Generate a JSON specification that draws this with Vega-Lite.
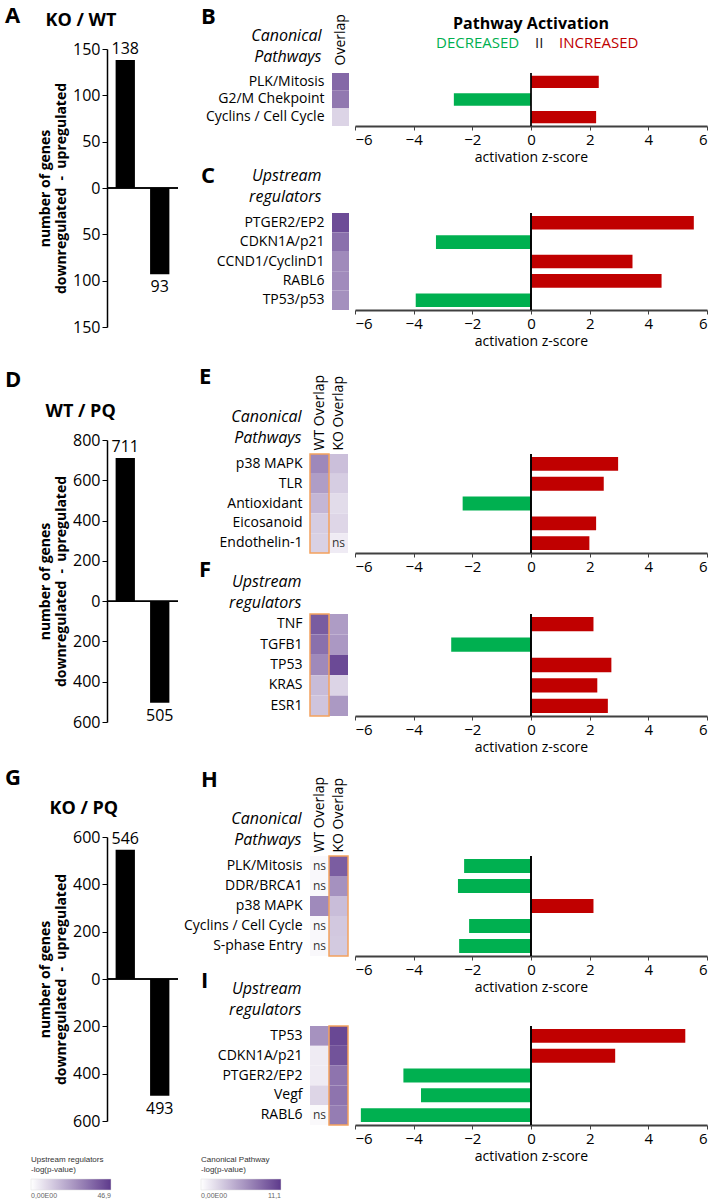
{
"$schema": "https://vega.github.io/schema/vega-lite/v6.json",
"background": "white",
"padding": 5,
"config": {
 "font": "Open Sans",
 "view": {"stroke": null},
 "axis": {"labelColor": "#000", "titleColor": "#000", "labelFont": "Open Sans", "titleFont": "Open Sans", "grid": false},
 "title": {"font": "Open Sans", "color": "#000"},
 "legend": {"labelFont": "Open Sans", "titleFont": "Open Sans"}
},
"datasets": {
 "genesA": [{"dir": "up", "n": 138, "genes": 138}, {"dir": "down", "n": -93, "genes": 93}],
 "genesD": [{"dir": "up", "n": 711, "genes": 711}, {"dir": "down", "n": -505, "genes": 505}],
 "genesG": [{"dir": "up", "n": 546, "genes": 546}, {"dir": "down", "n": -493, "genes": 493}],
 "heatB": [
  {"name": "PLK/Mitosis", "col": "Overlap", "val": 8.5, "sig": ""},
  {"name": "G2/M Chekpoint", "col": "Overlap", "val": 7.6, "sig": ""},
  {"name": "Cyclins / Cell Cycle", "col": "Overlap", "val": 2.4, "sig": ""}],
 "heatC": [
  {"name": "PTGER2/EP2", "col": "Overlap", "val": 42.6, "sig": ""},
  {"name": "CDKN1A/p21", "col": "Overlap", "val": 34, "sig": ""},
  {"name": "CCND1/CyclinD1", "col": "Overlap", "val": 27.8, "sig": ""},
  {"name": "RABL6", "col": "Overlap", "val": 27.5, "sig": ""},
  {"name": "TP53/p53", "col": "Overlap", "val": 26.4, "sig": ""}],
 "heatE": [
  {"name": "p38 MAPK", "col": "WT Overlap", "val": 6.7, "sig": ""},
  {"name": "p38 MAPK", "col": "KO Overlap", "val": 3.6, "sig": ""},
  {"name": "TLR", "col": "WT Overlap", "val": 5.5, "sig": ""},
  {"name": "TLR", "col": "KO Overlap", "val": 2.8, "sig": ""},
  {"name": "Antioxidant", "col": "WT Overlap", "val": 4.1, "sig": ""},
  {"name": "Antioxidant", "col": "KO Overlap", "val": 2.0, "sig": ""},
  {"name": "Eicosanoid", "col": "WT Overlap", "val": 2.8, "sig": ""},
  {"name": "Eicosanoid", "col": "KO Overlap", "val": 2.3, "sig": ""},
  {"name": "Endothelin-1", "col": "WT Overlap", "val": 2.6, "sig": ""},
  {"name": "Endothelin-1", "col": "KO Overlap", "val": 1.1, "sig": "ns"}],
 "heatF": [
  {"name": "TNF", "col": "WT Overlap", "val": 38.9, "sig": ""},
  {"name": "TNF", "col": "KO Overlap", "val": 23.5, "sig": ""},
  {"name": "TGFB1", "col": "WT Overlap", "val": 34, "sig": ""},
  {"name": "TGFB1", "col": "KO Overlap", "val": 24.5, "sig": ""},
  {"name": "TP53", "col": "WT Overlap", "val": 28, "sig": ""},
  {"name": "TP53", "col": "KO Overlap", "val": 43, "sig": ""},
  {"name": "KRAS", "col": "WT Overlap", "val": 16, "sig": ""},
  {"name": "KRAS", "col": "KO Overlap", "val": 10.3, "sig": ""},
  {"name": "ESR1", "col": "WT Overlap", "val": 14, "sig": ""},
  {"name": "ESR1", "col": "KO Overlap", "val": 24.4, "sig": ""}],
 "heatH": [
  {"name": "PLK/Mitosis", "col": "WT Overlap", "val": 0.4, "sig": "ns"},
  {"name": "PLK/Mitosis", "col": "KO Overlap", "val": 9.1, "sig": ""},
  {"name": "DDR/BRCA1", "col": "WT Overlap", "val": 0.4, "sig": "ns"},
  {"name": "DDR/BRCA1", "col": "KO Overlap", "val": 6.2, "sig": ""},
  {"name": "p38 MAPK", "col": "WT Overlap", "val": 6.6, "sig": ""},
  {"name": "p38 MAPK", "col": "KO Overlap", "val": 3.7, "sig": ""},
  {"name": "Cyclins / Cell Cycle", "col": "WT Overlap", "val": 0.4, "sig": "ns"},
  {"name": "Cyclins / Cell Cycle", "col": "KO Overlap", "val": 3.1, "sig": ""},
  {"name": "S-phase Entry", "col": "WT Overlap", "val": 0.4, "sig": "ns"},
  {"name": "S-phase Entry", "col": "KO Overlap", "val": 3.0, "sig": ""}],
 "heatI": [
  {"name": "TP53", "col": "WT Overlap", "val": 26, "sig": ""},
  {"name": "TP53", "col": "KO Overlap", "val": 43.6, "sig": ""},
  {"name": "CDKN1A/p21", "col": "WT Overlap", "val": 4.7, "sig": ""},
  {"name": "CDKN1A/p21", "col": "KO Overlap", "val": 41, "sig": ""},
  {"name": "PTGER2/EP2", "col": "WT Overlap", "val": 4.7, "sig": ""},
  {"name": "PTGER2/EP2", "col": "KO Overlap", "val": 33, "sig": ""},
  {"name": "Vegf", "col": "WT Overlap", "val": 10, "sig": ""},
  {"name": "Vegf", "col": "KO Overlap", "val": 33, "sig": ""},
  {"name": "RABL6", "col": "WT Overlap", "val": 1.5, "sig": "ns"},
  {"name": "RABL6", "col": "KO Overlap", "val": 31, "sig": ""}],
 "barB": [
  {"name": "PLK/Mitosis", "z": 2.31, "dir": "INCREASED"},
  {"name": "G2/M Chekpoint", "z": -2.63, "dir": "DECREASED"},
  {"name": "Cyclins / Cell Cycle", "z": 2.22, "dir": "INCREASED"}],
 "barC": [
  {"name": "PTGER2/EP2", "z": 5.55, "dir": "INCREASED"},
  {"name": "CDKN1A/p21", "z": -3.24, "dir": "DECREASED"},
  {"name": "CCND1/CyclinD1", "z": 3.46, "dir": "INCREASED"},
  {"name": "RABL6", "z": 4.45, "dir": "INCREASED"},
  {"name": "TP53/p53", "z": -3.93, "dir": "DECREASED"}],
 "barE": [
  {"name": "p38 MAPK", "z": 2.97, "dir": "INCREASED"},
  {"name": "TLR", "z": 2.48, "dir": "INCREASED"},
  {"name": "Antioxidant", "z": -2.33, "dir": "DECREASED"},
  {"name": "Eicosanoid", "z": 2.22, "dir": "INCREASED"},
  {"name": "Endothelin-1", "z": 1.99, "dir": "INCREASED"}],
 "barF": [
  {"name": "TNF", "z": 2.13, "dir": "INCREASED"},
  {"name": "TGFB1", "z": -2.72, "dir": "DECREASED"},
  {"name": "TP53", "z": 2.74, "dir": "INCREASED"},
  {"name": "KRAS", "z": 2.26, "dir": "INCREASED"},
  {"name": "ESR1", "z": 2.62, "dir": "INCREASED"}],
 "barH": [
  {"name": "PLK/Mitosis", "z": -2.28, "dir": "DECREASED"},
  {"name": "DDR/BRCA1", "z": -2.49, "dir": "DECREASED"},
  {"name": "p38 MAPK", "z": 2.13, "dir": "INCREASED"},
  {"name": "Cyclins / Cell Cycle", "z": -2.11, "dir": "DECREASED"},
  {"name": "S-phase Entry", "z": -2.45, "dir": "DECREASED"}],
 "barI": [
  {"name": "TP53", "z": 5.26, "dir": "INCREASED"},
  {"name": "CDKN1A/p21", "z": 2.87, "dir": "INCREASED"},
  {"name": "PTGER2/EP2", "z": -4.35, "dir": "DECREASED"},
  {"name": "Vegf", "z": -3.75, "dir": "DECREASED"},
  {"name": "RABL6", "z": -5.8, "dir": "DECREASED"}],
 "boxWT": [{"col": "WT Overlap"}],
 "boxKO": [{"col": "KO Overlap"}]
},
"bounds": "full",
"spacing": 18,
"resolve": {"scale": {"fill": "independent", "color": "independent"}},
"vconcat": [
 {
  "hconcat": [
   {
    "width": 71, "height": 278,
    "title": {"text": "A", "anchor": "start", "frame": "group", "dx": -102, "offset": -17, "fontSize": 22, "fontWeight": "bold"},
    "data": {"name": "genesA"},
    "layer": [
     {"mark": {"type": "bar", "color": "black"},
      "encoding": {
       "x": {"field": "dir", "type": "nominal", "sort": ["up", "down"], "scale": {"paddingInner": 0.44, "paddingOuter": 0.25},
             "axis": {"orient": "top", "labels": false, "ticks": false, "domain": false, "title": "KO / WT", "titleFontSize": 18, "titleFontWeight": "bold", "titleX": -62, "titleY": -20, "titleAlign": "left", "titleBaseline": "bottom", "titleAngle": 0}},
       "y": {"field": "n", "type": "quantitative", "scale": {"domain": [-150, 150], "nice": false},
             "axis": {"values": [-150, -100, -50, 0, 50, 100, 150], "labelExpr": "abs(datum.value)", "title": ["number of genes", "downregulated\u00a0 - \u00a0upregulated"], "titleFontSize": 14, "titleFontWeight": "bold", "labelFontSize": 16, "domainColor": "black", "domainWidth": 1.5, "tickColor": "black", "tickSize": 5, "labelPadding": 2, "titlePadding": 4}}
      }},
     {"mark": {"type": "rule", "color": "black", "strokeWidth": 1.5}, "encoding": {"y": {"datum": 0}}},
     {"transform": [{"filter": "datum.n > 0"}],
      "mark": {"type": "text", "baseline": "bottom", "dy": -3, "fontSize": 16},
      "encoding": {"x": {"field": "dir", "type": "nominal", "sort": ["up", "down"]}, "y": {"field": "n", "type": "quantitative"}, "text": {"field": "genes"}}},
     {"transform": [{"filter": "datum.n < 0"}],
      "mark": {"type": "text", "baseline": "top", "dy": 5, "fontSize": 16},
      "encoding": {"x": {"field": "dir", "type": "nominal", "sort": ["up", "down"]}, "y": {"field": "n", "type": "quantitative"}, "text": {"field": "genes"}}}
    ]
   },
   {
    "vconcat": [
     {
      "hconcat": [
       {
        "width": 17, "height": 77,
        "title": {"text": "B", "anchor": "start", "frame": "group", "dx": -131, "offset": -15, "fontSize": 22, "fontWeight": "bold"},
        "data": {"name": "heatB"},
        "layer": [
         {"mark": {"type": "rect"},
          "encoding": {
           "x": {"field": "col", "type": "nominal", "scale": {"domain": ["Overlap"], "paddingInner": 0, "paddingOuter": 0},
                 "axis": {"orient": "top", "offset": -24, "labelAngle": -90, "labelFontSize": 14, "labelPadding": 8, "ticks": false, "domain": false, "title": null}},
           "y": {"field": "name", "type": "nominal", "scale": {"domain": ["PLK/Mitosis", "G2/M Chekpoint", "Cyclins / Cell Cycle"], "paddingInner": 0, "paddingOuter": 0.679, "align": 1},
                 "axis": {"labelFontSize": 14, "labelPadding": 8, "ticks": false, "domain": false, "title": ["Canonical", "Pathways"], "titleFontStyle": "italic", "titleFontWeight": "normal", "titleFontSize": 16, "titleAngle": 0, "titleAlign": "right", "titleBaseline": "bottom", "titleX": -11, "titleY": -6, "titleLineHeight": 21}},
           "fill": {"field": "val", "type": "quantitative", "scale": {"domain": [0, 11.1], "range": ["#ffffff", "#5e3a8c"], "interpolate": "rgb"}, "legend": null}
          }}
        ]
       },
       {
        "width": 352, "height": 77,
        "title": {"text": "Pathway Activation", "anchor": "middle", "frame": "group", "fontSize": 16, "fontWeight": "bold", "offset": 3},
        "data": {"name": "barB"},
        "layer": [
         {"mark": {"type": "bar", "height": {"band": 0.7}},
          "encoding": {
           "y": {"field": "name", "type": "nominal", "scale": {"domain": ["PLK/Mitosis", "G2/M Chekpoint", "Cyclins / Cell Cycle"], "paddingInner": 0, "paddingOuter": 0.679, "align": 1}, "axis": null},
           "x": {"field": "z", "type": "quantitative", "scale": {"domain": [-6, 6], "nice": false},
                 "axis": {"values": [-6, -4, -2, 0, 2, 4, 6], "title": "activation z-score", "titleFontSize": 14, "titleFontWeight": "normal", "titlePadding": 3, "labelFontSize": 15, "labelPadding": 2, "domainColor": "#404040", "domainWidth": 2, "tickColor": "#404040", "tickSize": 4}},
           "color": {"field": "dir", "type": "nominal", "scale": {"domain": ["DECREASED", "II", "INCREASED"], "range": ["#00b050", "#1a1a1a", "#c00000"]},
                     "legend": {"orient": "none", "legendX": 66, "legendY": -14, "direction": "horizontal", "columns": 3, "title": null, "symbolSize": 0, "symbolOpacity": 0, "symbolStrokeWidth": 0, "labelOffset": 0, "labelFontSize": 15, "columnPadding": -8, "labelLimit": 200,
                                "encode": {"labels": {"update": {"fill": {"signal": "datum.value === 'DECREASED' ? '#00b050' : datum.value === 'INCREASED' ? '#c00000' : '#1a1a1a'"}}}}}}
          }},
         {"mark": {"type": "rule", "color": "black", "strokeWidth": 1},
          "encoding": {"x": {"datum": 0}, "y": {"datum": "PLK/Mitosis", "type": "nominal", "bandPosition": 0}, "y2": {"value": "height"}}}
        ]
       }
      ],
      "spacing": 6, "bounds": "flush",
      "resolve": {"scale": {"fill": "independent", "color": "independent"}}
     },
     {
      "hconcat": [
       {
        "width": 17, "height": 97,
        "title": {"text": "C", "anchor": "start", "frame": "group", "dx": -131, "offset": -21, "fontSize": 22, "fontWeight": "bold"},
        "data": {"name": "heatC"},
        "layer": [
         {"mark": {"type": "rect"},
          "encoding": {
           "x": {"field": "col", "type": "nominal", "scale": {"domain": ["Overlap"], "paddingInner": 0, "paddingOuter": 0}, "axis": null},
           "y": {"field": "name", "type": "nominal", "scale": {"domain": ["PTGER2/EP2", "CDKN1A/p21", "CCND1/CyclinD1", "RABL6", "TP53/p53"], "paddingInner": 0, "paddingOuter": 0},
                 "axis": {"labelFontSize": 14, "labelPadding": 8, "ticks": false, "domain": false, "title": ["Upstream", "regulators"], "titleFontStyle": "italic", "titleFontWeight": "normal", "titleFontSize": 16, "titleAngle": 0, "titleAlign": "right", "titleBaseline": "bottom", "titleX": -11, "titleY": -30, "titleLineHeight": 21}},
           "fill": {"field": "val", "type": "quantitative", "scale": {"domain": [0, 46.9], "range": ["#ffffff", "#5e3a8c"], "interpolate": "rgb"}, "legend": null}
          }}
        ]
       },
       {
        "width": 352, "height": 97,
        "data": {"name": "barC"},
        "layer": [
         {"mark": {"type": "bar"},
          "encoding": {
           "y": {"field": "name", "type": "nominal", "scale": {"domain": ["PTGER2/EP2", "CDKN1A/p21", "CCND1/CyclinD1", "RABL6", "TP53/p53"], "paddingInner": 0.3, "paddingOuter": 0.15}, "axis": null},
           "x": {"field": "z", "type": "quantitative", "scale": {"domain": [-6, 6], "nice": false},
                 "axis": {"values": [-6, -4, -2, 0, 2, 4, 6], "title": "activation z-score", "titleFontSize": 14, "titleFontWeight": "normal", "titlePadding": 3, "labelFontSize": 15, "labelPadding": 2, "domainColor": "#404040", "domainWidth": 2, "tickColor": "#404040", "tickSize": 4}},
           "color": {"field": "dir", "type": "nominal", "scale": {"domain": ["DECREASED", "II", "INCREASED"], "range": ["#00b050", "#1a1a1a", "#c00000"]}, "legend": null}
          }},
         {"mark": {"type": "rule", "color": "black", "strokeWidth": 1}, "encoding": {"x": {"datum": 0}}}
        ]
       }
      ],
      "spacing": 6, "bounds": "flush",
      "resolve": {"scale": {"fill": "independent", "color": "independent"}}
     }
    ],
    "spacing": 164, "bounds": "flush",
    "resolve": {"scale": {"fill": "independent", "color": "independent"}}
   }
  ],
  "spacing": 22, "bounds": "full",
  "resolve": {"scale": {"fill": "independent", "color": "independent"}}
 },
 {
  "bounds": "full",
  "spacing": 13,
  "resolve": {"scale": {"fill": "independent", "color": "independent"}},
  "vconcat": [
 {
  "hconcat": [
   {
    "width": 71, "height": 282,
    "title": {"text": "D", "anchor": "start", "frame": "group", "dx": -102, "offset": 10, "fontSize": 22, "fontWeight": "bold"},
    "data": {"name": "genesD"},
    "layer": [
     {"mark": {"type": "bar", "color": "black"},
      "encoding": {
       "x": {"field": "dir", "type": "nominal", "sort": ["up", "down"], "scale": {"paddingInner": 0.44, "paddingOuter": 0.25},
             "axis": {"orient": "top", "labels": false, "ticks": false, "domain": false, "title": "WT / PQ", "titleFontSize": 18, "titleFontWeight": "bold", "titleX": -62, "titleY": -20, "titleAlign": "left", "titleBaseline": "bottom", "titleAngle": 0}},
       "y": {"field": "n", "type": "quantitative", "scale": {"domain": [-600, 800], "nice": false},
             "axis": {"values": [-600, -400, -200, 0, 200, 400, 600, 800], "labelExpr": "abs(datum.value)", "title": ["number of genes", "downregulated\u00a0 - \u00a0upregulated"], "titleFontSize": 14, "titleFontWeight": "bold", "labelFontSize": 16, "domainColor": "black", "domainWidth": 1.5, "tickColor": "black", "tickSize": 5, "labelPadding": 2, "titlePadding": 4}}
      }},
     {"mark": {"type": "rule", "color": "black", "strokeWidth": 1.5}, "encoding": {"y": {"datum": 0}}},
     {"transform": [{"filter": "datum.n > 0"}],
      "mark": {"type": "text", "baseline": "bottom", "dy": -3, "fontSize": 16},
      "encoding": {"x": {"field": "dir", "type": "nominal", "sort": ["up", "down"]}, "y": {"field": "n", "type": "quantitative"}, "text": {"field": "genes"}}},
     {"transform": [{"filter": "datum.n < 0"}],
      "mark": {"type": "text", "baseline": "top", "dy": 5, "fontSize": 16},
      "encoding": {"x": {"field": "dir", "type": "nominal", "sort": ["up", "down"]}, "y": {"field": "n", "type": "quantitative"}, "text": {"field": "genes"}}}
    ]
   },
   {
    "vconcat": [
     {
      "hconcat": [
       {
        "width": 38, "height": 113,
        "title": {"text": "E", "anchor": "start", "frame": "group", "dx": -111, "offset": -15, "fontSize": 22, "fontWeight": "bold"},
        "data": {"name": "heatE"},
        "layer": [
         {"mark": {"type": "rect"},
          "encoding": {
           "x": {"field": "col", "type": "nominal", "scale": {"domain": ["WT Overlap", "KO Overlap"], "paddingInner": 0, "paddingOuter": 0},
                 "axis": {"orient": "top", "offset": -14, "labelAngle": -90, "labelFontSize": 14, "labelPadding": 4, "ticks": false, "domain": false, "title": null}},
           "y": {"field": "name", "type": "nominal", "scale": {"domain": ["p38 MAPK", "TLR", "Antioxidant", "Eicosanoid", "Endothelin-1"], "paddingInner": 0, "paddingOuter": 0.354, "align": 1},
                 "axis": {"labelFontSize": 14, "labelPadding": 8, "ticks": false, "domain": false, "title": ["Canonical", "Pathways"], "titleFontStyle": "italic", "titleFontWeight": "normal", "titleFontSize": 16, "titleAngle": 0, "titleAlign": "right", "titleBaseline": "bottom", "titleX": -9, "titleY": -16, "titleLineHeight": 21}},
           "fill": {"field": "val", "type": "quantitative", "scale": {"domain": [0, 11.1], "range": ["#ffffff", "#5e3a8c"], "interpolate": "rgb"}, "legend": null}
          }},
         {"transform": [{"filter": "datum.sig == 'ns'"}],
          "mark": {"type": "text", "fontSize": 12, "color": "#333"},
          "encoding": {"x": {"field": "col", "type": "nominal"}, "y": {"field": "name", "type": "nominal"}, "text": {"field": "sig"}}},
         {"data": {"name": "boxWT"},
          "mark": {"type": "rect", "filled": false, "stroke": "#f4a15d", "strokeWidth": 1.5},
          "encoding": {"x": {"field": "col", "type": "nominal"}, "y": {"datum": "p38 MAPK", "type": "nominal", "bandPosition": 0}, "y2": {"value": "height"}}}
        ]
       },
       {
        "width": 352, "height": 113,
        "data": {"name": "barE"},
        "layer": [
         {"mark": {"type": "bar", "height": {"band": 0.7}},
          "encoding": {
           "y": {"field": "name", "type": "nominal", "scale": {"domain": ["p38 MAPK", "TLR", "Antioxidant", "Eicosanoid", "Endothelin-1"], "paddingInner": 0, "paddingOuter": 0.354, "align": 1}, "axis": null},
           "x": {"field": "z", "type": "quantitative", "scale": {"domain": [-6, 6], "nice": false},
                 "axis": {"values": [-6, -4, -2, 0, 2, 4, 6], "title": null, "labelFontSize": 15, "labelPadding": 2, "domainColor": "#404040", "domainWidth": 2, "tickColor": "#404040", "tickSize": 4}},
           "color": {"field": "dir", "type": "nominal", "scale": {"domain": ["DECREASED", "II", "INCREASED"], "range": ["#00b050", "#1a1a1a", "#c00000"]}, "legend": null}
          }},
         {"mark": {"type": "rule", "color": "black", "strokeWidth": 1},
          "encoding": {"x": {"datum": 0}, "y": {"datum": "p38 MAPK", "type": "nominal", "bandPosition": 0}, "y2": {"value": "height"}}}
        ]
       }
      ],
      "spacing": 7, "bounds": "flush",
      "resolve": {"scale": {"fill": "independent", "color": "independent"}}
     },
     {
      "hconcat": [
       {
        "width": 38, "height": 102,
        "title": {"text": "F", "anchor": "start", "frame": "group", "dx": -111, "offset": -9, "fontSize": 22, "fontWeight": "bold"},
        "data": {"name": "heatF"},
        "layer": [
         {"mark": {"type": "rect"},
          "encoding": {
           "x": {"field": "col", "type": "nominal", "scale": {"domain": ["WT Overlap", "KO Overlap"], "paddingInner": 0, "paddingOuter": 0}, "axis": null},
           "y": {"field": "name", "type": "nominal", "scale": {"domain": ["TNF", "TGFB1", "TP53", "KRAS", "ESR1"], "paddingInner": 0, "paddingOuter": 0},
                 "axis": {"labelFontSize": 14, "labelPadding": 8, "ticks": false, "domain": false, "title": ["Upstream", "regulators"], "titleFontStyle": "italic", "titleFontWeight": "normal", "titleFontSize": 16, "titleAngle": 0, "titleAlign": "right", "titleBaseline": "bottom", "titleX": -9, "titleY": -25, "titleLineHeight": 21}},
           "fill": {"field": "val", "type": "quantitative", "scale": {"domain": [0, 46.9], "range": ["#ffffff", "#5e3a8c"], "interpolate": "rgb"}, "legend": null}
          }},
         {"data": {"name": "boxWT"},
          "mark": {"type": "rect", "filled": false, "stroke": "#f4a15d", "strokeWidth": 1.5},
          "encoding": {"x": {"field": "col", "type": "nominal"}}}
        ]
       },
       {
        "width": 352, "height": 102,
        "data": {"name": "barF"},
        "layer": [
         {"mark": {"type": "bar"},
          "encoding": {
           "y": {"field": "name", "type": "nominal", "scale": {"domain": ["TNF", "TGFB1", "TP53", "KRAS", "ESR1"], "paddingInner": 0.3, "paddingOuter": 0.15}, "axis": null},
           "x": {"field": "z", "type": "quantitative", "scale": {"domain": [-6, 6], "nice": false},
                 "axis": {"values": [-6, -4, -2, 0, 2, 4, 6], "title": "activation z-score", "titleFontSize": 14, "titleFontWeight": "normal", "titlePadding": 3, "labelFontSize": 15, "labelPadding": 2, "domainColor": "#404040", "domainWidth": 2, "tickColor": "#404040", "tickSize": 4}},
           "color": {"field": "dir", "type": "nominal", "scale": {"domain": ["DECREASED", "II", "INCREASED"], "range": ["#00b050", "#1a1a1a", "#c00000"]}, "legend": null}
          }},
         {"mark": {"type": "rule", "color": "black", "strokeWidth": 1}, "encoding": {"x": {"datum": 0}}}
        ]
       }
      ],
      "spacing": 7, "bounds": "flush",
      "resolve": {"scale": {"fill": "independent", "color": "independent"}}
     }
    ],
    "spacing": 174, "bounds": "flush",
    "resolve": {"scale": {"fill": "independent", "color": "independent"}}
   }
  ],
  "spacing": 20, "bounds": "full",
  "resolve": {"scale": {"fill": "independent", "color": "independent"}}
 },
 {
  "hconcat": [
   {
    "width": 71, "height": 284,
    "title": {"text": "G", "anchor": "start", "frame": "group", "dx": -102, "offset": 9, "fontSize": 22, "fontWeight": "bold"},
    "data": {"name": "genesG"},
    "layer": [
     {"mark": {"type": "bar", "color": "black"},
      "encoding": {
       "x": {"field": "dir", "type": "nominal", "sort": ["up", "down"], "scale": {"paddingInner": 0.44, "paddingOuter": 0.25},
             "axis": {"orient": "top", "labels": false, "ticks": false, "domain": false, "title": "KO / PQ", "titleFontSize": 18, "titleFontWeight": "bold", "titleX": -58, "titleY": -20, "titleAlign": "left", "titleBaseline": "bottom", "titleAngle": 0}},
       "y": {"field": "n", "type": "quantitative", "scale": {"domain": [-600, 600], "nice": false},
             "axis": {"values": [-600, -400, -200, 0, 200, 400, 600], "labelExpr": "abs(datum.value)", "title": ["number of genes", "downregulated\u00a0 - \u00a0upregulated"], "titleFontSize": 14, "titleFontWeight": "bold", "labelFontSize": 16, "domainColor": "black", "domainWidth": 1.5, "tickColor": "black", "tickSize": 5, "labelPadding": 2, "titlePadding": 4}}
      }},
     {"mark": {"type": "rule", "color": "black", "strokeWidth": 1.5}, "encoding": {"y": {"datum": 0}}},
     {"transform": [{"filter": "datum.n > 0"}],
      "mark": {"type": "text", "baseline": "bottom", "dy": -3, "fontSize": 16},
      "encoding": {"x": {"field": "dir", "type": "nominal", "sort": ["up", "down"]}, "y": {"field": "n", "type": "quantitative"}, "text": {"field": "genes"}}},
     {"transform": [{"filter": "datum.n < 0"}],
      "mark": {"type": "text", "baseline": "top", "dy": 5, "fontSize": 16},
      "encoding": {"x": {"field": "dir", "type": "nominal", "sort": ["up", "down"]}, "y": {"field": "n", "type": "quantitative"}, "text": {"field": "genes"}}}
    ]
   },
   {
    "vconcat": [
     {
      "hconcat": [
       {
        "width": 38, "height": 119,
        "title": {"text": "H", "anchor": "start", "frame": "group", "dx": -109, "offset": -16, "fontSize": 22, "fontWeight": "bold"},
        "data": {"name": "heatH"},
        "layer": [
         {"mark": {"type": "rect"},
          "encoding": {
           "x": {"field": "col", "type": "nominal", "scale": {"domain": ["WT Overlap", "KO Overlap"], "paddingInner": 0, "paddingOuter": 0},
                 "axis": {"orient": "top", "offset": -19, "labelAngle": -90, "labelFontSize": 14, "labelPadding": 4, "ticks": false, "domain": false, "title": null}},
           "y": {"field": "name", "type": "nominal", "scale": {"domain": ["PLK/Mitosis", "DDR/BRCA1", "p38 MAPK", "Cyclins / Cell Cycle", "S-phase Entry"], "paddingInner": 0, "paddingOuter": 0.475, "align": 1},
                 "axis": {"labelFontSize": 14, "labelPadding": 8, "ticks": false, "domain": false, "title": ["Canonical", "Pathways"], "titleFontStyle": "italic", "titleFontWeight": "normal", "titleFontSize": 16, "titleAngle": 0, "titleAlign": "right", "titleBaseline": "bottom", "titleX": -9, "titleY": -11, "titleLineHeight": 21}},
           "fill": {"field": "val", "type": "quantitative", "scale": {"domain": [0, 11.1], "range": ["#ffffff", "#5e3a8c"], "interpolate": "rgb"},
                    "legend": {"orient": "none", "legendX": -109, "legendY": 319, "direction": "horizontal", "gradientLength": 80, "gradientThickness": 11, "title": ["Canonical Pathway", "-log(p-value)"], "titleFont": "Liberation Sans", "titleFontSize": 8, "titleFontWeight": "normal", "titleColor": "#333", "labelFont": "Liberation Sans", "labelFontSize": 7, "labelColor": "#666", "values": [0, 11.1], "labelExpr": "datum.value == 0 ? '0,00E00' : replace(format(datum.value, '.1f'), '.', ',')", "gradientStrokeColor": "#ddd", "gradientStrokeWidth": 0.5}}
          }},
         {"transform": [{"filter": "datum.sig == 'ns'"}],
          "mark": {"type": "text", "fontSize": 12, "color": "#333"},
          "encoding": {"x": {"field": "col", "type": "nominal"}, "y": {"field": "name", "type": "nominal"}, "text": {"field": "sig"}}},
         {"data": {"name": "boxKO"},
          "mark": {"type": "rect", "filled": false, "stroke": "#f4a15d", "strokeWidth": 1.5},
          "encoding": {"x": {"field": "col", "type": "nominal"}, "y": {"datum": "PLK/Mitosis", "type": "nominal", "bandPosition": 0}, "y2": {"value": "height"}}}
        ]
       },
       {
        "width": 352, "height": 119,
        "data": {"name": "barH"},
        "layer": [
         {"mark": {"type": "bar", "height": {"band": 0.7}},
          "encoding": {
           "y": {"field": "name", "type": "nominal", "scale": {"domain": ["PLK/Mitosis", "DDR/BRCA1", "p38 MAPK", "Cyclins / Cell Cycle", "S-phase Entry"], "paddingInner": 0, "paddingOuter": 0.475, "align": 1}, "axis": null},
           "x": {"field": "z", "type": "quantitative", "scale": {"domain": [-6, 6], "nice": false},
                 "axis": {"values": [-6, -4, -2, 0, 2, 4, 6], "title": "activation z-score", "titleFontSize": 14, "titleFontWeight": "normal", "titlePadding": 3, "labelFontSize": 15, "labelPadding": 2, "domainColor": "#404040", "domainWidth": 2, "tickColor": "#404040", "tickSize": 4}},
           "color": {"field": "dir", "type": "nominal", "scale": {"domain": ["DECREASED", "II", "INCREASED"], "range": ["#00b050", "#1a1a1a", "#c00000"]}, "legend": null}
          }},
         {"mark": {"type": "rule", "color": "black", "strokeWidth": 1},
          "encoding": {"x": {"datum": 0}, "y": {"datum": "PLK/Mitosis", "type": "nominal", "bandPosition": 0}, "y2": {"value": "height"}}}
        ]
       }
      ],
      "spacing": 7, "bounds": "flush",
      "resolve": {"scale": {"fill": "independent", "color": "independent"}}
     },
     {
      "hconcat": [
       {
        "width": 38, "height": 99,
        "title": {"text": "I", "anchor": "start", "frame": "group", "dx": -109, "offset": -13, "fontSize": 22, "fontWeight": "bold"},
        "data": {"name": "heatI"},
        "layer": [
         {"mark": {"type": "rect"},
          "encoding": {
           "x": {"field": "col", "type": "nominal", "scale": {"domain": ["WT Overlap", "KO Overlap"], "paddingInner": 0, "paddingOuter": 0}, "axis": null},
           "y": {"field": "name", "type": "nominal", "scale": {"domain": ["TP53", "CDKN1A/p21", "PTGER2/EP2", "Vegf", "RABL6"], "paddingInner": 0, "paddingOuter": 0},
                 "axis": {"labelFontSize": 14, "labelPadding": 8, "ticks": false, "domain": false, "title": ["Upstream", "regulators"], "titleFontStyle": "italic", "titleFontWeight": "normal", "titleFontSize": 16, "titleAngle": 0, "titleAlign": "right", "titleBaseline": "bottom", "titleX": -9, "titleY": -30, "titleLineHeight": 21}},
           "fill": {"field": "val", "type": "quantitative", "scale": {"domain": [0, 46.9], "range": ["#ffffff", "#5e3a8c"], "interpolate": "rgb"},
                    "legend": {"orient": "none", "legendX": -279, "legendY": 130, "direction": "horizontal", "gradientLength": 80, "gradientThickness": 11, "title": ["Upstream regulators", "-log(p-value)"], "titleFont": "Liberation Sans", "titleFontSize": 8, "titleFontWeight": "normal", "titleColor": "#333", "labelFont": "Liberation Sans", "labelFontSize": 7, "labelColor": "#666", "values": [0, 46.9], "labelExpr": "datum.value == 0 ? '0,00E00' : replace(format(datum.value, '.1f'), '.', ',')", "gradientStrokeColor": "#ddd", "gradientStrokeWidth": 0.5}}
          }},
         {"transform": [{"filter": "datum.sig == 'ns'"}],
          "mark": {"type": "text", "fontSize": 12, "color": "#333"},
          "encoding": {"x": {"field": "col", "type": "nominal"}, "y": {"field": "name", "type": "nominal"}, "text": {"field": "sig"}}},
         {"data": {"name": "boxKO"},
          "mark": {"type": "rect", "filled": false, "stroke": "#f4a15d", "strokeWidth": 1.5},
          "encoding": {"x": {"field": "col", "type": "nominal"}}}
        ]
       },
       {
        "width": 352, "height": 99,
        "data": {"name": "barI"},
        "layer": [
         {"mark": {"type": "bar"},
          "encoding": {
           "y": {"field": "name", "type": "nominal", "scale": {"domain": ["TP53", "CDKN1A/p21", "PTGER2/EP2", "Vegf", "RABL6"], "paddingInner": 0.3, "paddingOuter": 0.15}, "axis": null},
           "x": {"field": "z", "type": "quantitative", "scale": {"domain": [-6, 6], "nice": false},
                 "axis": {"values": [-6, -4, -2, 0, 2, 4, 6], "title": "activation z-score", "titleFontSize": 14, "titleFontWeight": "normal", "titlePadding": 3, "labelFontSize": 15, "labelPadding": 2, "domainColor": "#404040", "domainWidth": 2, "tickColor": "#404040", "tickSize": 4}},
           "color": {"field": "dir", "type": "nominal", "scale": {"domain": ["DECREASED", "II", "INCREASED"], "range": ["#00b050", "#1a1a1a", "#c00000"]}, "legend": null}
          }},
         {"mark": {"type": "rule", "color": "black", "strokeWidth": 1}, "encoding": {"x": {"datum": 0}}}
        ]
       }
      ],
      "spacing": 7, "bounds": "flush",
      "resolve": {"scale": {"fill": "independent", "color": "independent"}}
     }
    ],
    "spacing": 189, "bounds": "flush",
    "resolve": {"scale": {"fill": "independent", "color": "independent"}}
   }
  ],
  "spacing": -148, "bounds": "full",
  "resolve": {"scale": {"fill": "independent", "color": "independent"}}
 }
  ]
 }
]
}
